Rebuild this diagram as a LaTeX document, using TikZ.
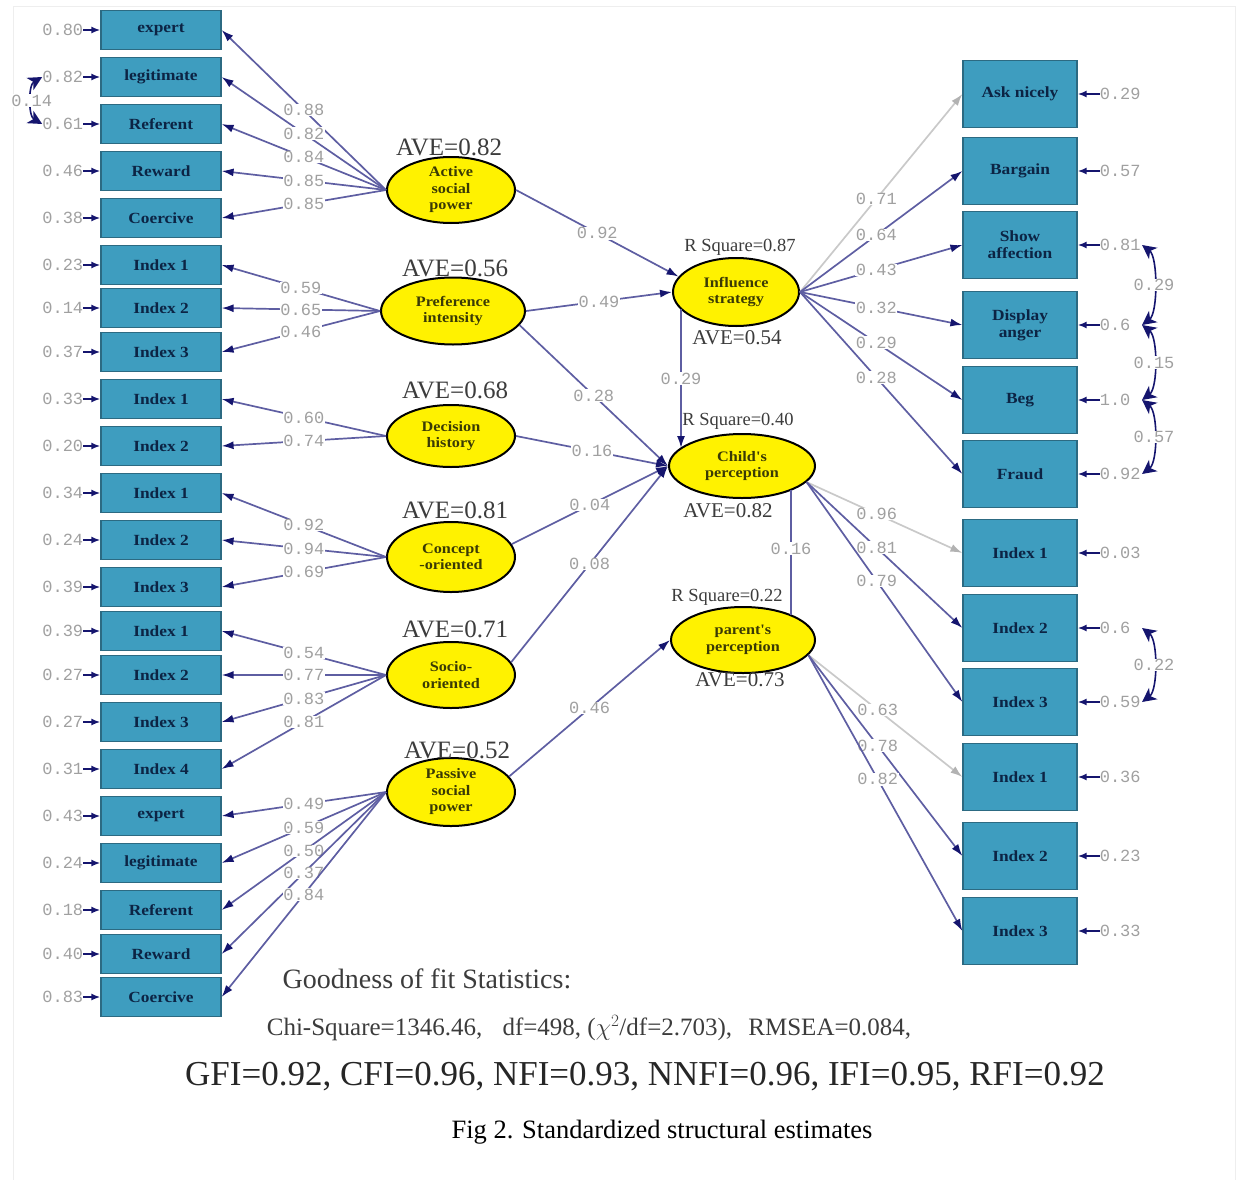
\documentclass[tikz,border=0pt]{standalone}
\usepackage{fontspec}
\setmainfont{Liberation Serif}
\newfontfamily\lblfont{Liberation Mono}
\newfontfamily\lisfont[FakeStretch=1.12]{Liberation Serif}
\usetikzlibrary{arrows.meta,calc,shapes.geometric}
\definecolor{boxc}{HTML}{3E9DBF}
\definecolor{boxd}{HTML}{2C6A82}
\definecolor{boxt}{HTML}{0C2444}
\definecolor{linec}{HTML}{5E5EA2}
\definecolor{headc}{HTML}{15156E}
\definecolor{grayl}{HTML}{C9C9C9}
\definecolor{grayh}{HTML}{B2B2B2}
\definecolor{lblc}{HTML}{A0A0A0}
\definecolor{ellt}{HTML}{3A3A05}
\definecolor{avec}{HTML}{3C3C3C}
\definecolor{framec}{HTML}{EEEEEE}
\begin{document}
\begin{tikzpicture}[x=1pt,y=-1pt,
  lbox/.style={draw=boxd, fill=boxc, line width=1.2pt, minimum width=120pt, minimum height=39pt, inner sep=0pt, text=boxt, align=center, font=\lisfont\bfseries\fontsize{15.5}{17}\selectfont},
  rbox/.style={lbox, minimum width=114pt, minimum height=67pt},
  lat/.style={ellipse, draw=black, line width=2pt, fill=yellow, minimum width=128pt, minimum height=66pt, inner sep=0pt, align=center, text=ellt, font=\lisfont\bfseries\fontsize{14.5}{16.5}\selectfont},
  ld/.style={draw=linec, line width=1.7pt, -{Latex[length=12pt,width=8pt,color=headc]}},
  ldg/.style={draw=grayl, line width=1.7pt, -{Latex[length=12pt,width=8pt,color=grayh]}},
  pl/.style={draw=linec, line width=1.7pt},
  er/.style={draw=headc, line width=1.8pt, -{Latex[length=9pt,width=7pt]}},
  cov/.style={draw=headc, line width=1.6pt, {Stealth[length=14pt,width=14pt,inset=4pt]}-{Stealth[length=14pt,width=14pt,inset=4pt]}},
  lbl/.style={fill=white, inner sep=0.5pt, text=lblc, font=\lblfont\fontsize{17}{17}\selectfont},
  elbl/.style={inner sep=0pt, text=lblc, font=\lblfont\fontsize{17}{17}\selectfont},
  relbl/.style={elbl, anchor=west, text width=42pt, align=left},
  ave/.style={text=avec, inner sep=0pt, font=\fontsize{25}{25}\selectfont},
  avs/.style={text=avec, inner sep=0pt, font=\fontsize{21}{21}\selectfont},
  rsq/.style={text=avec, inner sep=0pt, font=\fontsize{18.5}{18.5}\selectfont}
]
\useasboundingbox (0,0) rectangle (1241,1180);
\draw[framec, line width=1pt] (13,1180) -- (13,7) -- (1235,7) -- (1235,1180);

% left indicator boxes
\node[lbox] (L1) at (161,30) {expert};
\node[lbox] (L2) at (161,77) {legitimate};
\node[lbox] (L3) at (161,124) {Referent};
\node[lbox] (L4) at (161,171) {Reward};
\node[lbox] (L5) at (161,218) {Coercive};
\node[lbox] (L6) at (161,265) {Index 1};
\node[lbox] (L7) at (161,308) {Index 2};
\node[lbox] (L8) at (161,352) {Index 3};
\node[lbox] (L9) at (161,399) {Index 1};
\node[lbox] (L10) at (161,446) {Index 2};
\node[lbox] (L11) at (161,493) {Index 1};
\node[lbox] (L12) at (161,540) {Index 2};
\node[lbox] (L13) at (161,587) {Index 3};
\node[lbox] (L14) at (161,631) {Index 1};
\node[lbox] (L15) at (161,675) {Index 2};
\node[lbox] (L16) at (161,722) {Index 3};
\node[lbox] (L17) at (161,769) {Index 4};
\node[lbox] (L18) at (161,816) {expert};
\node[lbox] (L19) at (161,863) {legitimate};
\node[lbox] (L20) at (161,910) {Referent};
\node[lbox] (L21) at (161,954) {Reward};
\node[lbox] (L22) at (161,997) {Coercive};

% left error terms
\foreach \i/\v in {1/0.80,2/0.82,3/0.61,4/0.46,5/0.38,6/0.23,7/0.14,8/0.37,9/0.33,10/0.20,11/0.34,12/0.24,13/0.39,14/0.39,15/0.27,16/0.27,17/0.31,18/0.43,19/0.24,20/0.18,21/0.40,22/0.83}{
  \node[elbl, anchor=east] (E\i) at ($(L\i.west)+(-17,0)$) {\v};
  \draw[er] (E\i.east) -- (L\i.west);
}
\draw[cov] (E2.west) .. controls +(-14,8) and +(-14,-8) .. node[lbl]{0.14} (E3.west);

% latent variables
\node[lat] (ASP) at (451,190) {Active\\social\\power};
\node[lat, minimum width=144pt, minimum height=67pt] (PI) at (453,311) {Preference\\intensity};
\node[lat, minimum height=62pt] (DH) at (451,436) {Decision\\history};
\node[lat, minimum height=70pt] (CO) at (451,557) {Concept\\-oriented};
\node[lat] (SO) at (451,675) {Socio-\\oriented};
\node[lat, minimum height=68pt] (PSP) at (451,792) {Passive\\social\\power};
\node[lat, minimum width=126pt, minimum height=68pt] (IS) at (736,292) {Influence\\strategy};
\node[lat, minimum width=146pt, minimum height=64pt] (CP) at (742,466) {Child's\\perception};
\node[lat, minimum width=144pt, minimum height=66pt] (PP) at (743,640) {parent's\\perception};

% AVE / R square labels
\node[ave] (a1) at (449,147) {AVE=0.82};
\node[ave] (a2) at (455,268) {AVE=0.56};
\node[ave] (a3) at (455,390) {AVE=0.68};
\node[ave] (a4) at (455,510) {AVE=0.81};
\node[ave] (a5) at (455,629) {AVE=0.71};
\node[ave] (a6) at (457,750) {AVE=0.52};
\node[rsq] (r1) at (740,247) {R Square=0.87};
\node[avs] (a7) at (737,338) {AVE=0.54};
\node[rsq] (r2) at (738,421) {R Square=0.40};
\node[avs] (a8) at (728,511) {AVE=0.82};
\node[rsq] (r3) at (727,597) {R Square=0.22};
\node[avs] (a9) at (740,680) {AVE=0.73};

% right indicator boxes
\node[rbox] (R1) at (1020,94) {Ask nicely};
\node[rbox] (R2) at (1020,171) {Bargain};
\node[rbox] (R3) at (1020,245) {Show\\affection};
\node[rbox] (R4) at (1020,325) {Display\\anger};
\node[rbox] (R5) at (1020,400) {Beg};
\node[rbox] (R6) at (1020,474) {Fraud};
\node[rbox] (R7) at (1020,553) {Index 1};
\node[rbox] (R8) at (1020,628) {Index 2};
\node[rbox] (R9) at (1020,702) {Index 3};
\node[rbox] (R10) at (1020,777) {Index 1};
\node[rbox] (R11) at (1020,856) {Index 2};
\node[rbox] (R12) at (1020,931) {Index 3};

\foreach \i/\v in {1/0.29,2/0.57,3/0.81,4/0.6,5/1.0,6/0.92,7/0.03,8/0.6,9/0.59,10/0.36,11/0.23,12/0.33}{
  \node[relbl] (RE\i) at ($(R\i.east)+(22,0)$) {\v};
  \draw[er] (RE\i.west) -- (R\i.east);
}
\draw[cov] (RE3.east) .. controls +(16,12) and +(16,-12) .. node[lbl]{0.29} (RE4.east);
\draw[cov] (RE4.east) .. controls +(16,12) and +(16,-12) .. node[lbl]{0.15} (RE5.east);
\draw[cov] (RE5.east) .. controls +(16,12) and +(16,-12) .. node[lbl]{0.57} (RE6.east);
\draw[cov] (RE8.east) .. controls +(16,12) and +(16,-12) .. node[lbl]{0.22} (RE9.east);

% measurement loadings (left)
\draw[ld] (ASP.west) -- node[lbl]{0.88} (L1.east);
\draw[ld] (ASP.west) -- node[lbl]{0.82} (L2.east);
\draw[ld] (ASP.west) -- node[lbl]{0.84} (L3.east);
\draw[ld] (ASP.west) -- node[lbl]{0.85} (L4.east);
\draw[ld] (ASP.west) -- node[lbl]{0.85} (L5.east);
\draw[ld] (PI.west) -- node[lbl]{0.59} (L6.east);
\draw[ld] (PI.west) -- node[lbl]{0.65} (L7.east);
\draw[ld] (PI.west) -- node[lbl]{0.46} (L8.east);
\draw[ld] (DH.west) -- node[lbl]{0.60} (L9.east);
\draw[ld] (DH.west) -- node[lbl]{0.74} (L10.east);
\draw[ld] (CO.west) -- node[lbl]{0.92} (L11.east);
\draw[ld] (CO.west) -- node[lbl]{0.94} (L12.east);
\draw[ld] (CO.west) -- node[lbl]{0.69} (L13.east);
\draw[ld] (SO.west) -- node[lbl]{0.54} (L14.east);
\draw[ld] (SO.west) -- node[lbl]{0.77} (L15.east);
\draw[ld] (SO.west) -- node[lbl]{0.83} (L16.east);
\draw[ld] (SO.west) -- node[lbl]{0.81} (L17.east);
\draw[ld] (PSP.west) -- node[lbl]{0.49} (L18.east);
\draw[ld] (PSP.west) -- node[lbl]{0.59} (L19.east);
\draw[ld] (PSP.west) -- node[lbl]{0.50} (L20.east);
\draw[ld] (PSP.west) -- node[lbl]{0.37} (L21.east);
\draw[ld] (PSP.west) -- node[lbl]{0.84} (L22.east);

% structural paths
\draw[ld] (ASP.east) -- node[lbl]{0.92} (IS.165);
\draw[ld] (PI.east) -- node[lbl]{0.49} (IS.west);
\draw[ld] (PI.-12) -- node[lbl]{0.28} (CP.west);
\draw[ld] (DH.east) -- node[lbl]{0.16} (CP.west);
\draw[ld] (CO.12) -- node[lbl]{0.04} (CP.west);
\draw[ld] (SO.12) -- node[lbl]{0.08} (CP.west);
\draw[ld] (PSP.15) -- node[lbl]{0.46} (PP.west);
\draw[ld] ($(IS.center)+(-55,17)$) -- node[lbl, pos=0.5]{0.29} ($(CP.center)+(-61,-18)$);
\draw[pl] ($(CP.center)+(49,24)$) -- node[lbl, pos=0.47]{0.16} ($(PP.center)+(48,-25)$);

% measurement loadings (right)
\draw[ldg] (IS.east) -- node[lbl, pos=0.47]{0.71} (R1.west);
\draw[ld] (IS.east) -- node[lbl, pos=0.47]{0.64} (R2.west);
\draw[ld] (IS.east) -- node[lbl, pos=0.47]{0.43} (R3.west);
\draw[ld] (IS.east) -- node[lbl, pos=0.47]{0.32} (R4.west);
\draw[ld] (IS.east) -- node[lbl, pos=0.47]{0.29} (R5.west);
\draw[ld] (IS.east) -- node[lbl, pos=0.47]{0.28} (R6.west);
\draw[ldg] (CP.-14) -- node[lbl, pos=0.45]{0.96} (R7.west);
\draw[ld] (CP.-14) -- node[lbl, pos=0.45]{0.81} (R8.west);
\draw[ld] (CP.-14) -- node[lbl, pos=0.45]{0.79} (R9.west);
\draw[ldg] (PP.-13) -- node[lbl, pos=0.45]{0.63} (R10.west);
\draw[ld] (PP.-13) -- node[lbl, pos=0.45]{0.78} (R11.west);
\draw[ld] (PP.-13) -- node[lbl, pos=0.45]{0.82} (R12.west);

% fit statistics and caption
\node[text=avec, font=\fontsize{28}{28}\selectfont] (gof) at (427,979) {Goodness of fit Statistics:};
\node[text=avec, font=\fontsize{25}{25}\selectfont] (chi) at (589,1028) {Chi-Square=1346.46,\hspace{14pt} df=498, ($\chi^2$/df=2.703),\hspace{10pt} RMSEA=0.084,};
\node[text=black!85, font=\fontsize{35}{35}\selectfont] (fit) at (645,1077) {GFI=0.92, CFI=0.96, NFI=0.93, NNFI=0.96, IFI=0.95, RFI=0.92};
\node[font=\fontsize{26.5}{26.5}\selectfont] (cap) at (662,1132) {Fig 2. Standardized structural estimates};
\end{tikzpicture}
\end{document}
